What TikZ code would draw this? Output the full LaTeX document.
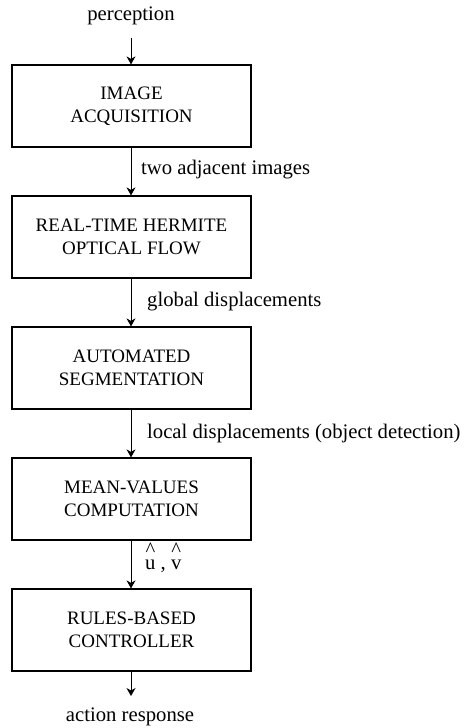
\documentclass[tikz,border=0pt]{standalone}
\usepackage{fontspec}
\setmainfont{Liberation Serif}
\newfontfamily\tnrfont{Liberation Serif}
\usetikzlibrary{arrows.meta}
\newcommand\hatup[1]{\ooalign{#1\cr\hidewidth\raisebox{0.62em}{\^{}}\hidewidth\cr}}
\begin{document}
\begin{tikzpicture}[x=1pt,y=1pt,
  stagebox/.style={draw, line width=1.2pt, minimum width=239pt, minimum height=82pt,
    align=center, inner sep=0pt, font=\tnrfont\fontsize{19}{22.5}\selectfont},
  arr/.style={line width=1pt, -{Stealth[length=8pt,width=9pt,inset=2.5pt]}},
  lab/.style={anchor=west, inner sep=0pt, font=\tnrfont\fontsize{20.7}{24}\selectfont}]
\useasboundingbox (0,0) rectangle (471,-728);
\node[lab, anchor=center] (perc) at (131,-16) {perception};
\coordinate (pin) at (131,-38);
\node[stagebox] (b1) at (131.5,-106) {IMAGE\\ACQUISITION};
\node[stagebox] (b2) at (131.5,-237) {REAL-TIME HERMITE\\OPTICAL FLOW};
\node[stagebox] (b3) at (131.5,-368) {AUTOMATED\\SEGMENTATION};
\node[stagebox] (b4) at (131.5,-499) {MEAN-VALUES\\COMPUTATION};
\node[stagebox] (b5) at (131.5,-630) {RULES-BASED\\CONTROLLER};
\coordinate (pout) at (131,-696);
\node[lab, anchor=center] (act) at (130,-717) {action response};
\draw[arr] (pin) -- (b1.north -| pin);
\draw[arr] (b1.south -| pin) -- (b2.north -| pin);
\draw[arr] (b2.south -| pin) -- (b3.north -| pin);
\draw[arr] (b3.south -| pin) -- (b4.north -| pin);
\draw[arr] (b4.south -| pin) -- (b5.north -| pin);
\draw[arr] (b5.south -| pin) -- (pout);
\node[lab] (l1) at (141,-170) {two adjacent images};
\node[lab] (l2) at (147,-302) {global displacements};
\node[lab] (l3) at (147,-434) {local displacements (object detection)};
\node[lab] (l4) at (145,-566) {\hatup{u} , \hatup{v}};
\end{tikzpicture}
\end{document}
